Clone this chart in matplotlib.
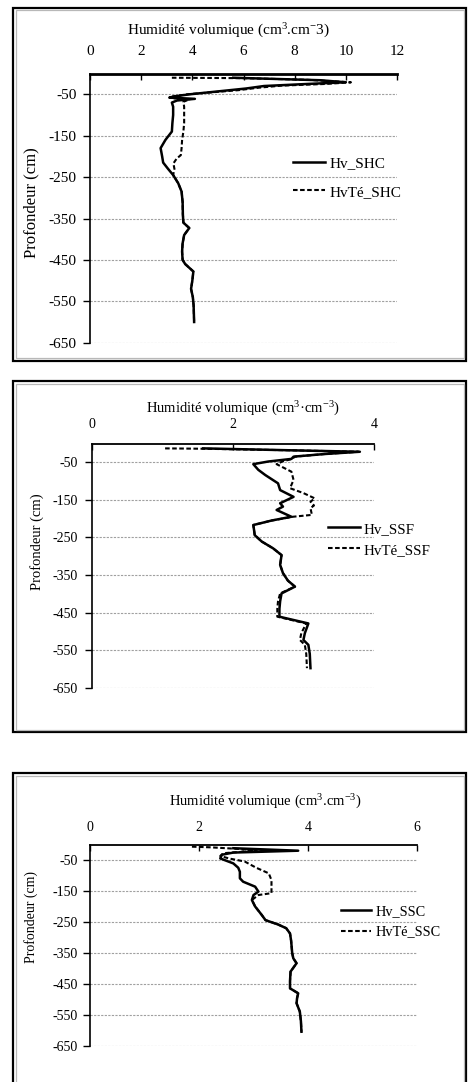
import numpy as np
import matplotlib
matplotlib.use("Agg")
import matplotlib.pyplot as plt
from matplotlib.patches import Rectangle

plt.rcParams['font.family'] = ['Liberation Serif', 'DejaVu Serif']
plt.rcParams['mathtext.fontset'] = 'custom'
plt.rcParams['mathtext.rm'] = 'Liberation Serif'
plt.rcParams['mathtext.it'] = 'Liberation Serif:italic'

# ---------------- Site SHC ----------------
depth_hv_shc = [-10, -16, -21, -25, -30, -36, -43, -50, -55, -58, -61, -65, -70, -80,
                -100, -120, -140, -160, -180, -200, -215, -230, -245, -265, -285, -310,
                -340, -360, -373, -390, -410, -430, -450, -460, -478, -500, -520, -540,
                -560, -580, -600]
hv_shc = [5.6, 9.0, 10.0, 8.5, 6.8, 6.1, 5.0, 3.9, 3.3, 3.1, 4.1, 3.4, 3.2, 3.25,
          3.25, 3.22, 3.2, 2.95, 2.76, 2.82, 2.86, 3.05, 3.25, 3.45, 3.58, 3.62,
          3.63, 3.65, 3.88, 3.68, 3.62, 3.60, 3.62, 3.72, 4.04, 4.0, 3.95, 4.02,
          4.05, 4.06, 4.07]
depth_hvte_shc = [-10, -11, -15, -21, -25, -29, -34, -40, -50, -56, -60, -62, -68, -80,
                  -100, -120, -140, -160, -180, -197, -205, -217, -230, -245, -265, -285,
                  -310, -340, -360, -373, -390, -410, -430, -450, -460, -478, -500, -520,
                  -540, -560, -580, -600]
hvte_shc = [3.2, 6.0, 8.5, 10.2, 9.2, 7.5, 6.6, 5.8, 3.8, 3.15, 3.3, 3.9, 3.65, 3.68,
            3.68, 3.68, 3.65, 3.60, 3.58, 3.55, 3.39, 3.26, 3.3, 3.25, 3.45, 3.58,
            3.62, 3.63, 3.65, 3.88, 3.68, 3.62, 3.60, 3.62, 3.72, 4.04, 4.0, 3.95,
            4.02, 4.05, 4.06, 4.07]

# ---------------- Site SSF ----------------
depth_hv_ssf = [-13, -18, -22, -28, -35, -41, -48, -55, -70, -84, -95, -106, -124, -142,
                -159, -168, -177, -195, -205, -217, -230, -244, -261, -279, -297, -323,
                -345, -365, -381, -399, -420, -440, -461, -479, -505, -523, -536, -560,
                -598]
hv_ssf = [1.58, 2.8, 3.80, 3.3, 2.86, 2.83, 2.5, 2.29, 2.36, 2.46, 2.55, 2.64, 2.67, 2.86,
          2.67, 2.71, 2.62, 2.83, 2.55, 2.29, 2.30, 2.31, 2.41, 2.57, 2.69, 2.67,
          2.71, 2.78, 2.88, 2.69, 2.67, 2.66, 2.66, 3.07, 3.02, 3.0, 3.07, 3.09,
          3.10]
depth_hvte_ssf = [-13, -14, -18, -22, -28, -35, -41, -48, -55, -75, -97, -119, -132, -146,
                  -155, -165, -172, -190, -195, -205, -217, -230, -244, -261, -279, -297,
                  -323, -345, -365, -381, -399, -420, -440, -461, -479, -505, -523, -536,
                  -560, -598]
hvte_ssf = [1.04, 1.6, 2.8, 3.78, 3.3, 2.88, 2.84, 2.7, 2.62, 2.83, 2.86, 2.81, 3.0, 3.16,
            3.10, 3.15, 3.10, 3.12, 2.85, 2.55, 2.29, 2.30, 2.31, 2.41, 2.57, 2.69,
            2.67, 2.71, 2.78, 2.88, 2.67, 2.64, 2.63, 2.63, 3.04, 2.97, 2.95, 3.02,
            3.04, 3.05]

# ---------------- Site SSC ----------------
depth_hv_ssc = [-12, -20, -26, -33, -45, -61, -75, -88, -109, -120, -136, -152, -163, -179,
                -200, -227, -244, -258, -270, -287, -310, -330, -350, -367, -383, -410,
                -440, -464, -480, -495, -512, -539, -570, -604]
hv_ssc = [2.63, 3.82, 2.63, 2.42, 2.39, 2.63, 2.72, 2.75, 2.75, 2.81, 3.03, 3.09, 3.0, 2.97,
          3.03, 3.15, 3.22, 3.45, 3.6, 3.67, 3.69, 3.70, 3.71, 3.73, 3.79, 3.68,
          3.67, 3.67, 3.82, 3.80, 3.79, 3.85, 3.87, 3.88]
depth_hvte_ssc = [-7, -9, -14, -20, -28, -37, -45, -55, -75, -93, -115, -140, -157, -163,
                  -179, -200, -227, -244, -258, -270, -287, -310, -330, -350, -367, -383,
                  -410, -440, -464, -480, -495, -512, -539, -570, -604]
hvte_ssc = [1.87, 2.2, 2.7, 3.06, 2.45, 2.39, 2.55, 2.84, 3.05, 3.28, 3.33, 3.33, 3.33, 3.09,
            2.97, 3.03, 3.15, 3.22, 3.45, 3.6, 3.67, 3.69, 3.70, 3.71, 3.73, 3.79,
            3.68, 3.67, 3.67, 3.82, 3.80, 3.79, 3.85, 3.87, 3.88]

depth_ticks = [-650, -550, -450, -350, -250, -150, -50]

W, H = 468, 1082
fig = plt.figure(figsize=(W / 100, H / 100), dpi=100)


def rect(left, top, right, bottom):
    return [left / W, 1 - bottom / H, (right - left) / W, (bottom - top) / H]


def frame(left, top, right, bottom):
    fig.patches.append(Rectangle((left / W, 1 - bottom / H), (right - left) / W,
                                 (bottom - top) / H, transform=fig.transFigure,
                                 fill=False, edgecolor='black', lw=1.6))
    fig.patches.append(Rectangle(((left + 2.5) / W, 1 - (bottom - 2.5) / H),
                                 (right - left - 5) / W, (bottom - top - 5) / H,
                                 transform=fig.transFigure, fill=False,
                                 edgecolor='#b8b8b8', lw=0.9))


frame(13, 8, 466, 361)
frame(13, 381, 466, 732)
frame(13, 773, 466, 1095)

panels = [
    dict(box=(90, 73.6, 397, 342.7), xmax=12, xstep=2,
         title="Humidité volumique (cm$^{3}$.cm$^{-}$3)",
         series=[(depth_hv_shc, hv_shc, 'Hv_SHC'), (depth_hvte_shc, hvte_shc, 'HvTé_SHC')],
         tfs=11, tickfs=11, yfs=12, lfs=11, xpad=11.5, titlepad=7, ypad=4.5,
         ylabpad=7, topw=2.0, leg=(293, 177.5), lsp=1.0, tx=0.450, ly=0.519),
    dict(box=(91.7, 443.5, 374, 687.7), xmax=4, xstep=2,
         title="Humidité volumique (cm$^{3}$·cm$^{-3}$)",
         series=[(depth_hv_ssf, hv_ssf, 'Hv_SSF'), (depth_hvte_ssf, hvte_ssf, 'HvTé_SSF')],
         tfs=10.5, tickfs=10, yfs=10.5, lfs=10.8, xpad=9, titlepad=4, ypad=5,
         ylabpad=6, topw=1.3, leg=(328, 539.5), lsp=0.5, tx=0.536, ly=0.597),
    dict(box=(90, 844.5, 417, 1046), xmax=6, xstep=2,
         title="Humidité volumique (cm$^{3}$.cm$^{-3}$)",
         series=[(depth_hv_ssc, hv_ssc, 'Hv_SSC'), (depth_hvte_ssc, hvte_ssc, 'HvTé_SSC')],
         tfs=10.5, tickfs=10, yfs=10, lfs=10.3, xpad=7.5, titlepad=11, ypad=3.5,
         ylabpad=11, topw=1.3, leg=(341, 922), lsp=0.5, tx=0.535, ly=0.640),
]

for p in panels:
    ax = fig.add_axes(rect(*p['box']))
    (d1, v1, l1), (d2, v2, l2) = p['series']
    ax.plot(v1, d1, color='black', lw=1.8, label=l1, zorder=3)
    ax.plot(v2, d2, color='black', lw=1.5, ls=(0, (2.2, 1.2)), label=l2, zorder=4)
    ax.set_xlim(0, p['xmax'])
    ax.set_ylim(-650, 0)
    ax.xaxis.tick_top()
    ax.xaxis.set_label_position('top')
    ax.set_xticks(np.arange(0, p['xmax'] + 0.01, p['xstep']))
    ax.set_xticklabels([f"{int(t)}" for t in ax.get_xticks()])
    ax.set_yticks(depth_ticks)
    ax.set_yticklabels([f"{t}" for t in depth_ticks])
    ax.tick_params(axis='x', direction='in', length=4, width=1, pad=p['xpad'],
                   labelsize=p['tickfs'])
    ax.tick_params(axis='y', direction='out', length=5, width=1, pad=p['ypad'],
                   labelsize=p['tickfs'])
    for s in ('right', 'bottom'):
        ax.spines[s].set_visible(False)
    ax.spines['top'].set_linewidth(p['topw'])
    ax.spines['left'].set_linewidth(1.2)
    ax.grid(axis='y', linestyle=(0, (2, 1.2)), color='#a0a0a0', lw=0.8)
    ax.set_axisbelow(True)
    ax.set_xlabel(p['title'], fontsize=p['tfs'], labelpad=p['titlepad'])
    ax.xaxis.label.set_x(p['tx'])
    ax.set_ylabel("Profondeur (cm)", fontsize=p['yfs'], labelpad=p['ylabpad'])
    ax.yaxis.label.set_y(p['ly'])
    ax.patch.set_visible(False)
    lx, lyp = p['leg']
    ax.legend(loc='center left', bbox_to_anchor=(lx / W, 1 - lyp / H),
              bbox_transform=fig.transFigure, frameon=False, fontsize=p['lfs'],
              handlelength=2.1, handletextpad=0.3, borderpad=0, borderaxespad=0,
              labelspacing=p['lsp'])

fig.savefig("out.png", dpi=100)
